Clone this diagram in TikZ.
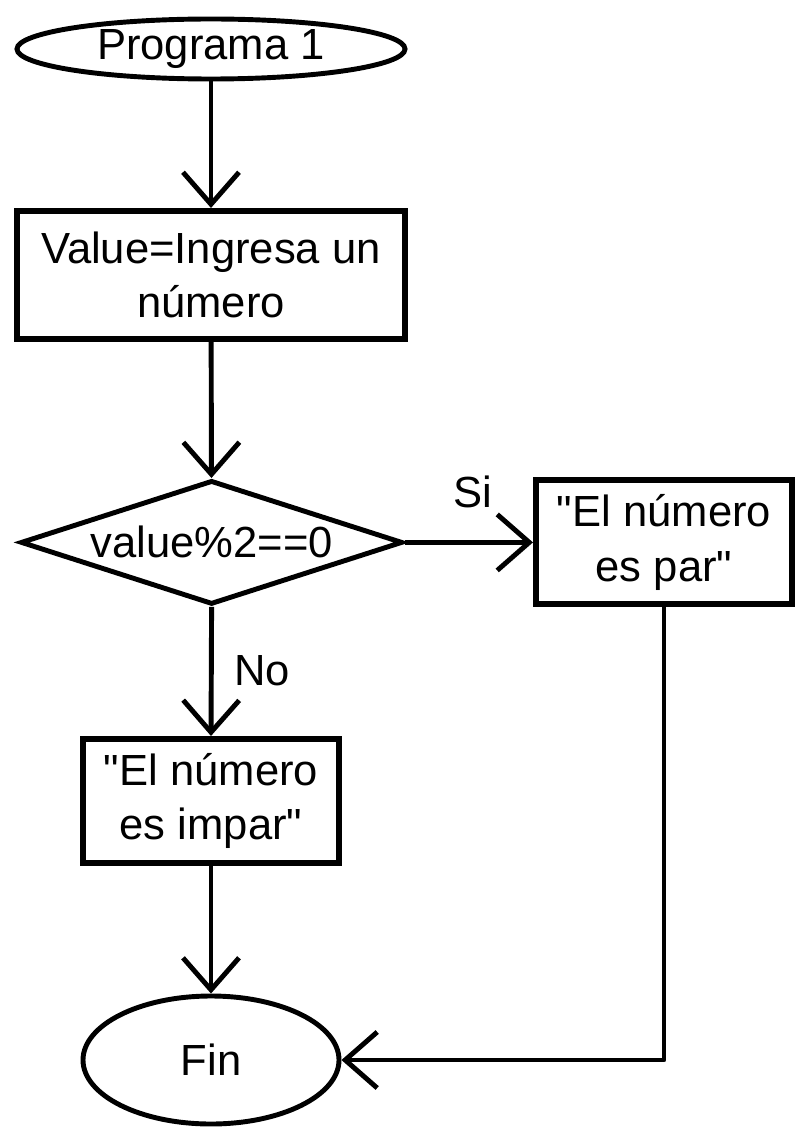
\documentclass[tikz,border=0pt]{standalone}
\usepackage{fontspec}
\setmainfont{Liberation Sans}[Ligatures=TeXOff]
\usepackage{tikz}
\usetikzlibrary{arrows.meta, shapes.geometric}

\begin{document}
\begin{tikzpicture}[x=1cm,y=1cm,
       font=\fontsize{31pt}{39pt}\selectfont,
       >={Straight Barb[length=8mm,width=14mm]},
       flow/.style={black, line width=3.5pt, ->},
       blok/.style={draw, black, rectangle, line width=4.3pt, inner sep=0pt, align=center},
       ovalo/.style={draw, black, ellipse, line width=3.5pt, inner sep=0pt},
       rombo/.style={draw, black, diamond, line width=3.5pt, inner sep=0pt, aspect=3}]
       \useasboundingbox (0,0) rectangle (20.1,-28.325);

       \node[ovalo, minimum width=9.7cm, minimum height=1.5cm] (prog) at (5.275,-1.225) {Programa 1};
       \node[blok, minimum width=9.7cm, minimum height=3.2cm] (valor) at (5.275,-6.875) {Value=Ingresa un\\número};
       \node[rombo, minimum width=9.55cm, minimum height=3.1cm] (cond) at (5.29,-13.56) {value\%2==0};
       \node[blok, minimum width=6.4cm, minimum height=3.1cm] (par) at (16.6,-13.56) {"El número\\es par"};
       \node[blok, minimum width=6.4cm, minimum height=3.1cm] (impar) at (5.275,-20.025) {"El número\\es impar"};
       \node[ovalo, minimum width=6.4cm, minimum height=3.2cm] (fin) at (5.275,-26.5) {Fin};

       \draw[flow] (prog) -- (valor);
       \draw[flow] (valor) -- (cond);
       \draw[flow] (cond.east) -- (par.west) node[] (si) at (11.825,-12.3) {Si};
       \draw[flow] (cond.south) -- (impar.north) node[] (no) at (6.55,-16.775) {No};
       \draw[flow] (impar) -- (fin);
       \draw[flow, line join=round] (par.south) |- (fin.east);
\end{tikzpicture}
\end{document}
